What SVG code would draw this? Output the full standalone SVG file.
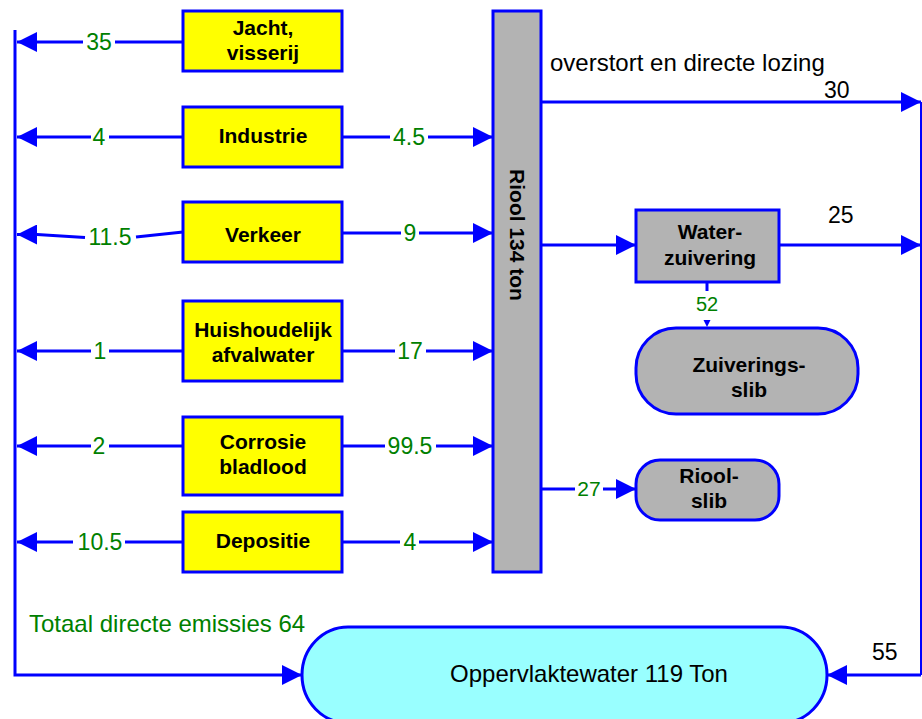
<svg xmlns="http://www.w3.org/2000/svg" width="922" height="719" viewBox="0 0 922 719">
<defs>
<style>
.box{stroke:#0000ff;stroke-width:3}
.yel{fill:#ffff00}
.gry{fill:#b3b3b3}
.cyn{fill:#99ffff}
.lbl{font-family:"Liberation Sans",Arial,sans-serif;font-weight:bold;font-size:21px;fill:#000;text-anchor:middle}
.num{font-family:"Liberation Sans",Arial,sans-serif;font-size:23px;fill:#008000;text-anchor:middle}
.txt{font-family:"Liberation Sans",Arial,sans-serif;font-size:24px;fill:#000}
.ln{fill:none;stroke:#0000ff;stroke-width:3}
.ar{fill:none;stroke:#0000ff;stroke-width:3;marker-end:url(#ah)}
</style>
<marker id="ah" viewBox="0 0 20 20" refX="20" refY="10" markerWidth="20" markerHeight="20" markerUnits="userSpaceOnUse" orient="auto">
<path d="M0,0 L20,10 L0,20 z" fill="#0000ff"/>
</marker>
</defs>
<rect width="922" height="719" fill="#ffffff"/>

<g id="connectors">
<!-- left emissions -->
<path class="ln" d="M183,42 H115"/><path class="ar" d="M83,42 H17"/>
<path class="ln" d="M183,137 H109"/><path class="ar" d="M91,137 H17"/>
<path class="ln" d="M183,232 L136,237"/><path class="ar" d="M85,237.5 L37,234.5 H17"/>
<path class="ln" d="M183,351 H109"/><path class="ar" d="M91,351 H17"/>
<path class="ln" d="M183,446 H109"/><path class="ar" d="M91,446 H17"/>
<path class="ln" d="M183,542 H125"/><path class="ar" d="M73,542 H17"/>
<!-- to riool -->
<path class="ln" d="M342,137 H390"/><path class="ar" d="M428,137 H493"/>
<path class="ln" d="M342,233 H401"/><path class="ar" d="M419,233 H493"/>
<path class="ln" d="M342,351 H395"/><path class="ar" d="M426,351 H493"/>
<path class="ln" d="M342,446 H385"/><path class="ar" d="M436,446 H493"/>
<path class="ln" d="M342,542 H400"/><path class="ar" d="M419,542 H493"/>
<!-- from riool -->
<path class="ar" d="M541,102 H921"/>
<path class="ar" d="M541,245 H636"/>
<path class="ar" d="M779,245 H921"/>
<path class="ln" d="M707,282 V291"/>
<path d="M703.5,320 L710.5,320 L707,327 z" fill="#0000ff"/>
<path class="ln" d="M541,489 H575"/><path class="ar" d="M603,489 H636"/>
<!-- to surface water -->
<path class="ar" d="M15,30 V675 H302"/>
<path fill="none" stroke="#0000ff" stroke-width="2" d="M921,102 V675"/>
<path class="ar" d="M921,675 H827"/>
</g>

<g id="labels">
<text class="num" x="99" y="50">35</text>
<text class="num" x="99" y="145">4</text>
<text class="num" x="110" y="245">11.5</text>
<text class="num" x="100" y="359">1</text>
<text class="num" x="99" y="454">2</text>
<text class="num" x="100" y="550">10.5</text>
<text class="num" x="409" y="145">4.5</text>
<text class="num" x="410" y="241">9</text>
<text class="num" x="410" y="359">17</text>
<text class="num" x="410" y="454">99.5</text>
<text class="num" x="410" y="550">4</text>
<text class="num" x="707" y="311" style="font-size:20px">52</text>
<text class="num" x="589" y="496" style="font-size:21px">27</text>
<text class="txt" x="550" y="71">overstort en directe lozing</text>
<text class="txt" x="824" y="98" style="font-size:23px">30</text>
<text class="txt" x="828" y="223" style="font-size:23px">25</text>
<text class="txt" x="872" y="660" style="font-size:23px">55</text>
<text class="txt" x="29" y="632" style="fill:#008000">Totaal directe emissies 64</text>
</g>

<g id="jacht">
<rect class="box yel" x="183" y="11" width="159" height="60"/>
<text class="lbl" x="263" y="35">Jacht,</text>
<text class="lbl" x="263" y="60">visserij</text>
</g>
<g id="industrie">
<rect class="box yel" x="183" y="107" width="159" height="60"/>
<text class="lbl" x="263" y="143">Industrie</text>
</g>
<g id="verkeer">
<rect class="box yel" x="183" y="202" width="159" height="60"/>
<text class="lbl" x="263" y="242">Verkeer</text>
</g>
<g id="huishoudelijk">
<rect class="box yel" x="183" y="301" width="159" height="80"/>
<text class="lbl" x="263" y="337">Huishoudelijk</text>
<text class="lbl" x="263" y="362">afvalwater</text>
</g>
<g id="corrosie">
<rect class="box yel" x="183" y="417" width="159" height="78"/>
<text class="lbl" x="263" y="449">Corrosie</text>
<text class="lbl" x="263" y="474">bladlood</text>
</g>
<g id="depositie">
<rect class="box yel" x="183" y="512" width="159" height="60"/>
<text class="lbl" x="263" y="548">Depositie</text>
</g>
<g id="riool">
<rect class="box gry" x="493" y="11" width="48" height="561"/>
<text class="lbl" transform="translate(517,235) rotate(90)" x="0" y="7">Riool 134 ton</text>
</g>
<g id="waterzuivering">
<rect class="box gry" x="636" y="210" width="143" height="72"/>
<text class="lbl" x="710" y="239">Water-</text>
<text class="lbl" x="710" y="265">zuivering</text>
</g>
<g id="zuiveringsslib">
<rect class="box gry" x="636" y="328" width="222" height="86" rx="40" ry="40"/>
<text class="lbl" x="749" y="372">Zuiverings-</text>
<text class="lbl" x="749" y="397">slib</text>
</g>
<g id="rioolslib">
<rect class="box gry" x="636" y="460" width="143" height="60" rx="24" ry="24"/>
<text class="lbl" x="709" y="483">Riool-</text>
<text class="lbl" x="709" y="508">slib</text>
</g>
<g id="oppervlaktewater">
<rect class="box cyn" x="302" y="627" width="525" height="96" rx="46" ry="48"/>
<text class="txt" x="589" y="682" style="text-anchor:middle">Oppervlaktewater 119 Ton</text>
</g>
</svg>
